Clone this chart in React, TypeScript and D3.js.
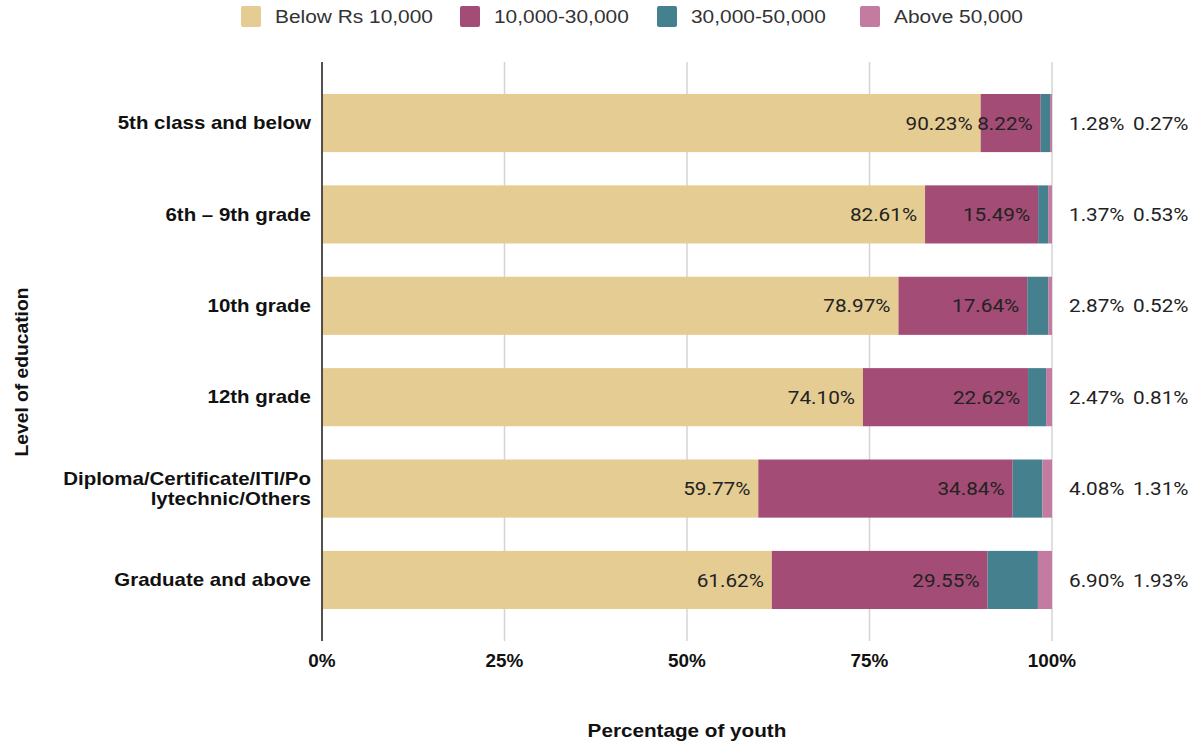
import React from "react";
import * as d3 from "d3";

const categories = [
  "5th class and below",
  "6th – 9th grade",
  "10th grade",
  "12th grade",
  "Diploma/Certificate/ITI/Polytechnic/Others",
  "Graduate and above",
];
const categoryLines = [
  ["5th class and below"],
  ["6th – 9th grade"],
  ["10th grade"],
  ["12th grade"],
  ["Diploma/Certificate/ITI/Po", "lytechnic/Others"],
  ["Graduate and above"],
];
const seriesNames = ["Below Rs 10,000", "10,000-30,000", "30,000-50,000", "Above 50,000"];
const seriesColors = ["#E5CC93", "#A34C75", "#45808E", "#C47BA0"];
const below10k = [90.23, 82.61, 78.97, 74.1, 59.77, 61.62];
const from10to30k = [8.22, 15.49, 17.64, 22.62, 34.84, 29.55];
const from30to50k = [1.28, 1.37, 2.87, 2.47, 4.08, 6.9];
const above50k = [0.27, 0.53, 0.52, 0.81, 1.31, 1.93];
const xTicks = [0, 25, 50, 75, 100];

const W = 1188;
const H = 742;

const valueFont = "Roboto, 'Noto Sans', sans-serif";
const boldFont = "'Liberation Sans', Arial, sans-serif";

function SText(props: {
  x: number;
  y: number;
  sx?: number;
  rotate?: number;
  anchor?: string;
  family: string;
  size: number;
  weight?: string;
  fill: string;
  dy?: string;
  children: any;
}) {
  const { x, y, sx = 1, rotate = 0, anchor = "start", family, size, weight = "normal", fill, dy = "0", children } = props;
  return (
    <g transform={`translate(${x}, ${y}) rotate(${rotate}) scale(${sx}, 1)`}>
      <text x={0} y={0} dy={dy} textAnchor={anchor} fontFamily={family} fontSize={size} fontWeight={weight} fill={fill}>
        {children}
      </text>
    </g>
  );
}

export default function App() {
  const x = d3.scaleLinear().domain([0, 100]).range([322, 1052]);
  const y = d3.scaleBand().domain(categories).range([62, 641]).paddingInner(0.364).paddingOuter(0.35);

  const rows = categories.map((c, i) => ({
    cat: c,
    below10k: below10k[i],
    from10to30k: from10to30k[i],
    from30to50k: from30to50k[i],
    above50k: above50k[i],
  }));
  const keys = ["below10k", "from10to30k", "from30to50k", "above50k"];
  const stack = d3.stack<any>().keys(keys)(rows);

  const legendX = [241, 460, 657, 860];
  const cy = (i: number) => (y(categories[i]) as number) + y.bandwidth() / 2;

  return (
    <div style={{ position: "absolute", left: 0, top: 0 }}>
      <svg width={W} height={H} style={{ display: "block", background: "#fff" }}>
        {/* gridlines */}
        {xTicks.map((t) => (
          <line key={t} x1={x(t)} x2={x(t)} y1={62} y2={641} stroke="#d4d4d4" strokeWidth={1.5} />
        ))}
        {/* bars */}
        {stack.map((s, si) =>
          s.map((d, i) => (
            <rect
              key={si + "-" + i}
              x={x(d[0])}
              width={Math.max(0, x(d[1]) - x(d[0]))}
              y={y(categories[i])}
              height={y.bandwidth()}
              fill={seriesColors[si]}
            />
          ))
        )}
        {/* axis line */}
        <line x1={x(0)} x2={x(0)} y1={62} y2={641} stroke="#222" strokeWidth={1.5} />
        {/* inside labels */}
        {stack.slice(0, 2).map((s, si) =>
          s.map((d, i) => (
            <SText
              key={"l" + si + "-" + i}
              x={x(d[1]) - 8}
              y={cy(i)}
              sx={1.12}
              dy="0.36em"
              anchor="end"
              family={valueFont}
              size={18.5}
              fill="#222"
            >
              {(s[i].data as any)[keys[si]].toFixed(2)}%
            </SText>
          ))
        )}
        {/* outside labels */}
        {rows.map((r, i) => (
          <g key={"o" + i}>
            <SText x={x(100) + 17} y={cy(i)} sx={1.12} dy="0.36em" family={valueFont} size={18.5} fill="#222">
              {r.from30to50k.toFixed(2)}%
            </SText>
            <SText x={x(100) + 81} y={cy(i)} sx={1.12} dy="0.36em" family={valueFont} size={18.5} fill="#222">
              {r.above50k.toFixed(2)}%
            </SText>
          </g>
        ))}
        {/* category labels */}
        {categories.map((c, i) => {
          const lines = categoryLines[i];
          return lines.map((ln, li) => (
            <SText
              key={"c" + i + "-" + li}
              x={311}
              y={cy(i) + (li - (lines.length - 1) / 2) * 20}
              sx={1.17}
              dy="0.35em"
              anchor="end"
              family={boldFont}
              weight="bold"
              size={17.5}
              fill="#111"
            >
              {ln}
            </SText>
          ));
        })}
        {/* x tick labels */}
        {xTicks.map((t) => (
          <SText
            key={"t" + t}
            x={x(t)}
            y={667}
            sx={1.08}
            anchor="middle"
            family={boldFont}
            weight="bold"
            size={17.5}
            fill="#111"
          >
            {t}%
          </SText>
        ))}
        {/* axis titles */}
        <SText x={687} y={737} sx={1.15} anchor="middle" family={boldFont} weight="bold" size={18} fill="#111">
          Percentage of youth
        </SText>
        <SText
          x={28}
          y={372}
          rotate={-90}
          sx={1.1}
          anchor="middle"
          family={boldFont}
          weight="bold"
          size={17.5}
          fill="#111"
        >
          Level of education
        </SText>
        {/* legend */}
        {seriesNames.map((n, i) => (
          <g key={"lg" + i} transform={`translate(${legendX[i]}, 6)`}>
            <rect width={20} height={21} rx={2} fill={seriesColors[i]} />
            <SText x={34} y={10.5} sx={1.1} dy="0.35em" family={boldFont} size={19} fill="#333">
              {n}
            </SText>
          </g>
        ))}
      </svg>
    </div>
  );
}
